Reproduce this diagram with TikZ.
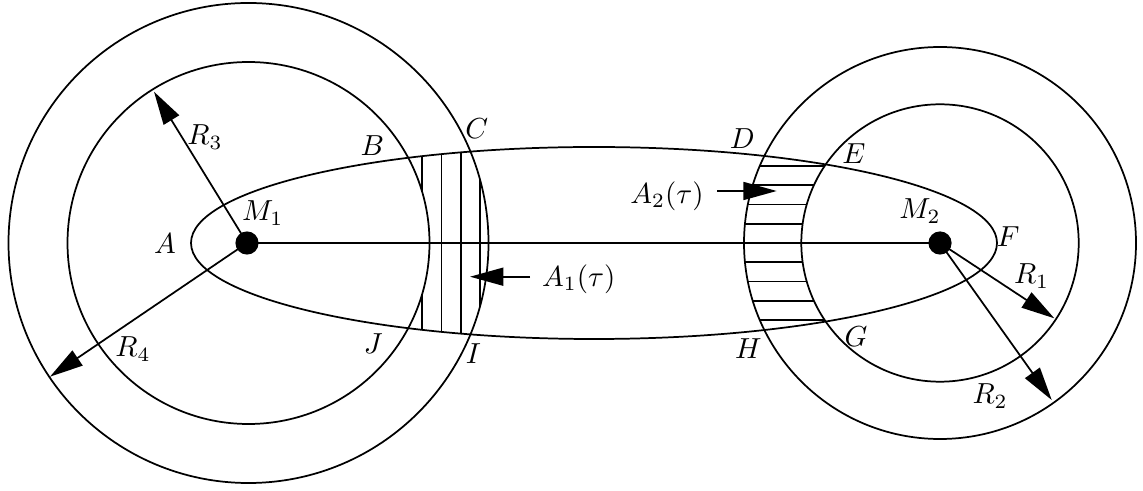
\documentclass[tikz,border=0pt]{standalone}
\usetikzlibrary{arrows.meta}
\begin{document}
\begin{tikzpicture}[x=0.345pt,y=-0.345pt,line width=0.6pt,
  tip/.style={-{Triangle[length=11.5pt,width=6.2pt]}},
  dot/.style={circle,fill=black,inner sep=0pt,minimum size=8pt},
  lbl/.style={inner sep=0pt}]
\useasboundingbox (0,0) rectangle (1143,491);
\coordinate (c1) at (248.5,243);
\coordinate (c2) at (940,243);
\coordinate (ec) at (594,243);
% hatching, left lens
\begin{scope}[even odd rule]
  \clip (ec) ellipse [x radius=403, y radius=96];
  \clip (c1) circle [radius=240];
  \clip (0,0) rectangle (1143,491) (c1) circle [radius=181];
  \foreach \k in {9,...,12} \draw (248.5+19.3*\k,100) -- (248.5+19.3*\k,400);
\end{scope}
% hatching, right lens
\begin{scope}[even odd rule]
  \clip (ec) ellipse [x radius=403, y radius=96];
  \clip (c2) circle [radius=196];
  \clip (0,0) rectangle (1143,491) (c2) circle [radius=138.7];
  \foreach \k in {-4,...,4} \draw (700,243+19.3*\k) -- (1000,243+19.3*\k);
\end{scope}
% circles and ellipse
\draw (c1) circle [radius=181];
\draw (c1) circle [radius=240];
\draw (c2) circle [radius=138.7];
\draw (c2) circle [radius=196];
\draw (ec) ellipse [x radius=403, y radius=96];
% masses
\node[dot] (m1) at (247,243) {};
\node[dot] (m2) at (940,243) {};
\draw (m1.center) -- (m2.center);
% radii
\coordinate (r3) at (154,91.7);
\coordinate (r4) at (50,376.7);
\coordinate (r1) at (1054.3,318.3);
\coordinate (r2) at (1051.7,400);
\draw[tip] (m1.center) -- (r3);
\draw[tip] (m1.center) -- (r4);
\draw[tip] (m2.center) -- (r1);
\draw[tip] (m2.center) -- (r2);
% area arrows
\coordinate (a1tail) at (530,276.7);
\coordinate (a1head) at (470,276.7);
\coordinate (a2tail) at (717.3,191);
\coordinate (a2head) at (776.7,191);
\draw[tip] (a1tail) -- (a1head);
\draw[tip] (a2tail) -- (a2head);
% labels
\node[lbl] (lA) at (165,243.3) {$A$};
\node[lbl] (lM1) at (262.7,213) {$M_1$};
\node[lbl] (lR3) at (205,137) {$R_3$};
\node[lbl] (lB) at (372.3,146) {$B$};
\node[lbl] (lC) at (476.7,128.3) {$C$};
\node[lbl] (lJ) at (373.3,343.3) {$J$};
\node[lbl] (lI) at (473.3,353.3) {$I$};
\node[lbl] (lR4) at (133,349) {$R_4$};
\node[lbl] (lA1) at (578.7,279) {$A_1(\tau)$};
\node[lbl] (lA2) at (667,196) {$A_2(\tau)$};
\node[lbl] (lD) at (742.3,138.3) {$D$};
\node[lbl] (lE) at (854,153.3) {$E$};
\node[lbl] (lM2) at (920,211) {$M_2$};
\node[lbl] (lF) at (1008.3,236.7) {$F$};
\node[lbl] (lG) at (856,336.7) {$G$};
\node[lbl] (lH) at (748.3,348.3) {$H$};
\node[lbl] (lR1) at (1031.7,276) {$R_1$};
\node[lbl] (lR2) at (990,396) {$R_2$};
\end{tikzpicture}
\end{document}
